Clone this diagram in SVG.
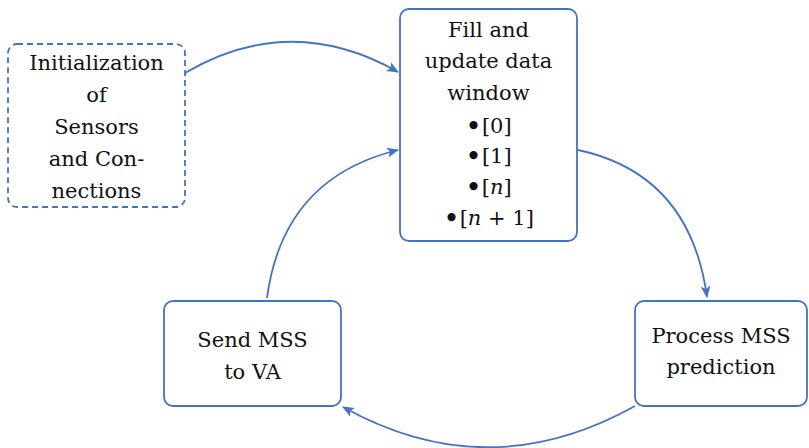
<svg xmlns="http://www.w3.org/2000/svg" width="809" height="448" viewBox="0 0 809 448">
  <style>
    .box { fill: #ffffff; stroke: #4472C4; stroke-width: 1.8; }
    .dashed { stroke-dasharray: 6 4; }
    .lbl { font-family: "DejaVu Serif", "Liberation Serif", serif; font-size: 21px; fill: #111111; text-anchor: middle; }
    .dot { font-size: 28px; }
    .edge { fill: none; stroke: #4472C4; stroke-width: 1.8; marker-end: url(#head); }
  </style>
  <defs>
    <marker id="head" viewBox="0 0 12 10" refX="11" refY="5" markerWidth="12" markerHeight="10" markerUnits="userSpaceOnUse" orient="auto">
      <path d="M0,0 L12,5 L0,10 L3,5 z" fill="#4472C4"/>
    </marker>
  </defs>

  <rect width="809" height="448" fill="#ffffff"/>

  <g id="connectors">
    <path class="edge" d="M185,73 Q291,11 398,72"/>
    <path class="edge" d="M267,298 Q283,178 398,150"/>
    <path class="edge" d="M578,150 Q690,174 707,297"/>
    <path class="edge" d="M635,406 Q488,488 343,407"/>
  </g>

  <g id="init">
    <rect class="box dashed" x="8" y="44" width="177" height="163" rx="9"/>
    <text class="lbl" x="96.5" y="70">Initialization</text>
    <text class="lbl" x="96.5" y="102">of</text>
    <text class="lbl" x="96.5" y="134">Sensors</text>
    <text class="lbl" x="96.5" y="166">and Con-</text>
    <text class="lbl" x="96.5" y="198">nections</text>
  </g>

  <g id="window">
    <rect class="box" x="400" y="9" width="177" height="232" rx="9"/>
    <text class="lbl" x="488.5" y="37">Fill and</text>
    <text class="lbl" x="488.5" y="68">update data</text>
    <text class="lbl" x="488.5" y="100">window</text>
    <text class="lbl" x="488.5" y="133"><tspan class="dot" dy="3">•</tspan><tspan dy="-3">[0]</tspan></text>
    <text class="lbl" x="488.5" y="163"><tspan class="dot" dy="3">•</tspan><tspan dy="-3">[1]</tspan></text>
    <text class="lbl" x="488.5" y="194"><tspan class="dot" dy="3">•</tspan><tspan dy="-3">[<tspan font-style="italic">n</tspan>]</tspan></text>
    <text class="lbl" x="488.5" y="225"><tspan class="dot" dy="3">•</tspan><tspan dy="-3">[<tspan font-style="italic">n</tspan> + 1]</tspan></text>
  </g>

  <g id="send">
    <rect class="box" x="164" y="301" width="177" height="105" rx="9"/>
    <text class="lbl" x="252.5" y="347">Send MSS</text>
    <text class="lbl" x="252.5" y="379">to VA</text>
  </g>

  <g id="process">
    <rect class="box" x="635" y="301" width="172" height="105" rx="9"/>
    <text class="lbl" x="721" y="343">Process MSS</text>
    <text class="lbl" x="721" y="374">prediction</text>
  </g>
</svg>
